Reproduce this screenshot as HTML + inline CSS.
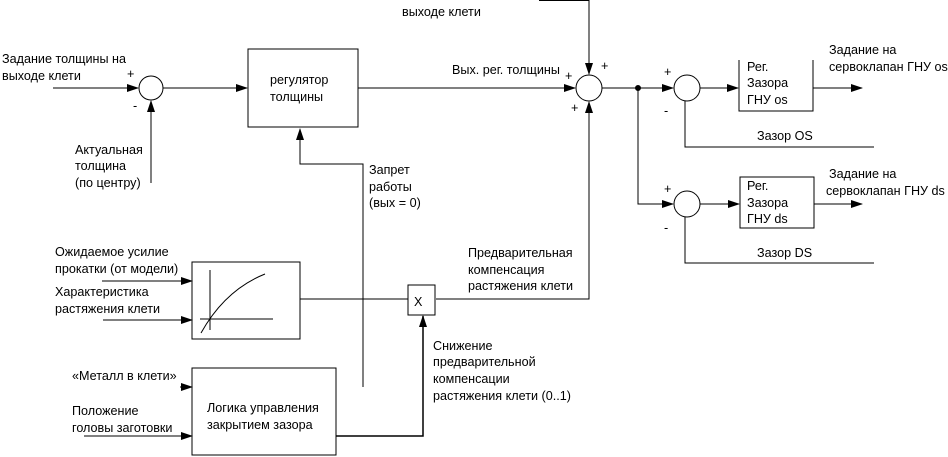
<!DOCTYPE html>
<html><head><meta charset="utf-8"><style>
html,body{margin:0;padding:0;background:#fff;}
svg{display:block}
text{font-family:"Liberation Sans","DejaVu Sans",sans-serif;font-size:12.6px;fill:#000;}
</style></head><body>
<svg width="948" height="457" viewBox="0 0 948 457" xmlns="http://www.w3.org/2000/svg">
<defs>
<marker id="a" markerWidth="12" markerHeight="8" refX="11" refY="4" orient="auto" markerUnits="userSpaceOnUse">
<path d="M0,0 L12,4 L0,8 Z" fill="#000"/></marker>
</defs>
<g stroke="#000" stroke-width="1" fill="none">
<circle cx="151" cy="88" r="12"/>
<line x1="53" y1="88" x2="138" y2="88" marker-end="url(#a)"/>
<line x1="151" y1="183" x2="151" y2="101" marker-end="url(#a)"/>
<line x1="163" y1="88" x2="247" y2="88" marker-end="url(#a)"/>
<rect x="248" y="49" width="110" height="78"/>
<line x1="358" y1="88" x2="575" y2="88" marker-end="url(#a)"/>
<polyline points="363,387 363,164 300,164 300,129" marker-end="url(#a)"/>
<circle cx="589" cy="88" r="13"/>
<polyline points="539,0.5 589,0.5 589,74" marker-end="url(#a)"/>
<polyline points="436,299 589,299 589,102" marker-end="url(#a)"/>
<line x1="602" y1="88" x2="673" y2="88" marker-end="url(#a)"/>
<circle cx="638" cy="88" r="2.5" fill="#000"/>
<polyline points="638,88 638,204 673,204" marker-end="url(#a)"/>
<circle cx="687" cy="88" r="13"/>
<line x1="700" y1="88" x2="738" y2="88" marker-end="url(#a)"/>
<polyline points="739,60 739,111 813,111 813,60"/>
<line x1="813" y1="88" x2="862" y2="88" marker-end="url(#a)"/>
<polyline points="874,147 685,147 685,101"/>
<circle cx="687" cy="204" r="13"/>
<line x1="700" y1="204" x2="739" y2="204" marker-end="url(#a)"/>
<rect x="740" y="177" width="74" height="51"/>
<line x1="814" y1="204" x2="862" y2="204" marker-end="url(#a)"/>
<polyline points="874,263 685,263 685,217"/>
<rect x="192" y="262" width="108" height="77"/>
<line x1="102" y1="281" x2="192" y2="281" marker-end="url(#a)"/>
<line x1="103" y1="320" x2="192" y2="320" marker-end="url(#a)"/>
<line x1="210" y1="270" x2="210" y2="330"/>
<line x1="200" y1="319" x2="273" y2="319"/>
<path d="M201,333 Q225,290 265,274"/>
<line x1="300" y1="299" x2="408" y2="299"/>
<rect x="408" y="285" width="27" height="30"/>
<rect x="192" y="368" width="144" height="87"/>
<line x1="180" y1="387" x2="192" y2="387" marker-end="url(#a)"/>
<line x1="84" y1="436" x2="192" y2="436" marker-end="url(#a)"/>
<polyline points="336,436 423,436 423,316" stroke-width="1.5" marker-end="url(#a)"/>
</g>
<text x="2" y="63">Задание толщины на</text>
<text x="2" y="80">выходе клети</text>
<text x="127" y="78" font-size="10">+</text>
<text x="133" y="110">-</text>
<text x="75" y="154">Актуальная</text>
<text x="75" y="170">толщина</text>
<text x="75" y="187">(по центру)</text>
<text x="270" y="84">регулятор</text>
<text x="270" y="101">толщины</text>
<text x="369" y="174">Запрет</text>
<text x="369" y="191">работы</text>
<text x="369" y="207">(вых = 0)</text>
<text x="402" y="16">выходе клети</text>
<text x="452" y="74">Вых. рег. толщины</text>
<text x="565" y="80" font-size="10">+</text>
<text x="601" y="70" font-size="10">+</text>
<text x="571" y="112" font-size="10">+</text>
<text x="664" y="76" font-size="10">+</text>
<text x="664" y="115">-</text>
<text x="664" y="193" font-size="10">+</text>
<text x="664" y="232">-</text>
<text x="747" y="71">Рег.</text>
<text x="747" y="87">Зазора</text>
<text x="747" y="104">ГНУ os</text>
<text x="747" y="190">Рег.</text>
<text x="747" y="207">Зазора</text>
<text x="747" y="223">ГНУ ds</text>
<text x="829" y="54">Задание на</text>
<text x="829" y="71">сервоклапан ГНУ os</text>
<text x="829" y="178">Задание на</text>
<text x="826" y="195">сервоклапан ГНУ ds</text>
<text x="757" y="140">Зазор OS</text>
<text x="757" y="257">Зазор DS</text>
<text x="468" y="257">Предварительная</text>
<text x="468" y="274">компенсация</text>
<text x="468" y="290">растяжения клети</text>
<text x="414" y="306" font-size="16">X</text>
<text x="433" y="350">Снижение</text>
<text x="433" y="366">предварительной</text>
<text x="433" y="383">компенсации</text>
<text x="433" y="400">растяжения клети (0..1)</text>
<text x="55" y="256">Ожидаемое усилие</text>
<text x="55" y="273">прокатки (от модели)</text>
<text x="55" y="296">Характеристика</text>
<text x="55" y="313">растяжения клети</text>
<text x="72" y="380">«Металл в клети»</text>
<text x="72" y="415">Положение</text>
<text x="72" y="432">головы заготовки</text>
<text x="207" y="412">Логика управления</text>
<text x="207" y="429">закрытием зазора</text>
</svg>
</body></html>
